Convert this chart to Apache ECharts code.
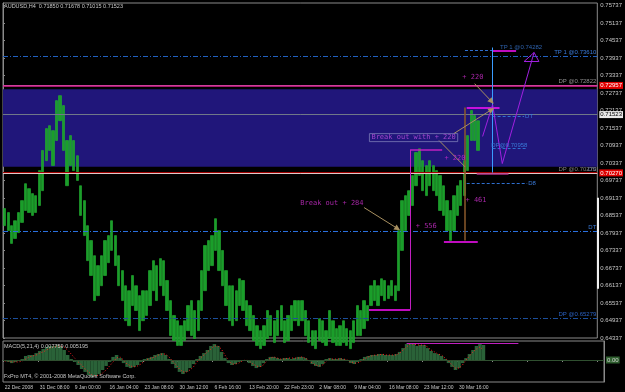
<!DOCTYPE html>
<html><head><meta charset="utf-8">
<script src="https://cdn.jsdelivr.net/npm/echarts@6/dist/echarts.min.js"></script>
<style>html,body{margin:0;padding:0;background:#000;}#c{width:625px;height:392px;}</style>
</head><body><div id="c"></div>
<script>
// ---- data ----
const timeLabels = ["22 Dec 2008","31 Dec 08:00","9 Jan 00:00","16 Jan 04:00","23 Jan 08:00","30 Jan 12:00","6 Feb 16:00","13 Feb 20:00","22 Feb 23:00","2 Mar 08:00","9 Mar 04:00","16 Mar 08:00","23 Mar 12:00","30 Mar 16:00"];
const barHigh = [
0.6878,0.6864,0.6819,0.6836,0.6864,0.6905,0.6963,0.6946,0.6929,0.6922,
0.7008,0.7077,0.7152,0.7162,0.7145,0.7248,0.7265,0.7231,0.7111,0.7128,
0.7111,0.7059,0.6956,0.6905,0.6819,0.6768,0.6716,0.6682,0.6716,0.6768,
0.6785,0.6836,0.6785,0.6716,0.6665,0.6613,0.6596,0.6648,0.6613,0.6579,
0.6596,0.6596,0.6665,0.6699,0.6682,0.6706,0.6699,0.6631,0.6562,0.6511,
0.6493,0.6476,0.6493,0.6545,0.6562,0.6528,0.6562,0.6665,0.6751,0.6768,
0.6785,0.6843,0.6802,0.6734,0.6665,0.6613,0.6613,0.6596,0.6637,0.6631,
0.6562,0.6545,0.6511,0.6476,0.6459,0.6476,0.6528,0.6511,0.6493,0.6528,
0.6545,0.6493,0.6511,0.6545,0.6562,0.6562,0.6562,0.6528,0.6493,0.6459,
0.6459,0.6500,0.6493,0.6459,0.6528,0.6493,0.6466,0.6476,0.6493,0.6466,
0.6459,0.6493,0.6545,0.6528,0.6562,0.6545,0.6613,0.6631,0.6613,0.6637,
0.6631,0.6613,0.6631,0.6613,0.6802,0.6905,0.6922,0.6939,0.6991,0.7070,
0.7083,0.7042,0.7025,0.7042,0.7025,0.7008,0.6991,0.6956,0.6905,0.6871,
0.6922,0.6956,0.6974,0.7042,0.7128,0.7214,0.7197,0.7179];
const barLow = [
0.6819,0.6802,0.6758,0.6775,0.6795,0.6830,0.6871,0.6864,0.6854,0.6864,
0.6888,0.6939,0.7042,0.7077,0.7025,0.7111,0.7179,0.7077,0.6956,0.7025,
0.7008,0.6974,0.6854,0.6785,0.6699,0.6648,0.6562,0.6579,0.6613,0.6648,
0.6692,0.6734,0.6682,0.6613,0.6562,0.6493,0.6476,0.6545,0.6528,0.6459,
0.6493,0.6511,0.6545,0.6596,0.6562,0.6613,0.6579,0.6528,0.6442,0.6425,
0.6408,0.6408,0.6425,0.6459,0.6442,0.6432,0.6459,0.6528,0.6596,0.6665,
0.6682,0.6734,0.6665,0.6613,0.6545,0.6493,0.6476,0.6493,0.6545,0.6528,
0.6476,0.6459,0.6425,0.6408,0.6397,0.6408,0.6432,0.6442,0.6418,0.6442,
0.6459,0.6418,0.6425,0.6459,0.6493,0.6476,0.6493,0.6442,0.6418,0.6408,
0.6397,0.6425,0.6418,0.6408,0.6432,0.6418,0.6408,0.6408,0.6418,0.6408,
0.6397,0.6418,0.6442,0.6442,0.6466,0.6493,0.6545,0.6562,0.6545,0.6579,
0.6562,0.6569,0.6579,0.6562,0.6596,0.6734,0.6802,0.6854,0.6888,0.6956,
0.6991,0.6939,0.6922,0.6956,0.6939,0.6922,0.6871,0.6854,0.6802,0.6768,
0.6802,0.6854,0.6888,0.6922,0.7008,0.7111,0.7111,0.7077];
const macdMain = [
-0.0005,-0.0010,-0.0016,-0.0010,-0.0005,0.0005,0.0021,0.0026,0.0026,0.0036,
0.0047,0.0057,0.0068,0.0073,0.0073,0.0078,0.0073,0.0052,0.0026,0.0005,
-0.0010,-0.0026,-0.0047,-0.0062,-0.0078,-0.0088,-0.0083,-0.0073,-0.0052,-0.0031,
-0.0010,0.0016,0.0026,0.0010,-0.0016,-0.0036,-0.0042,-0.0036,-0.0026,-0.0010,
0.0005,0.0010,0.0016,0.0026,0.0031,0.0036,0.0026,0.0005,-0.0021,-0.0042,
-0.0062,-0.0073,-0.0062,-0.0042,-0.0021,0.0005,0.0021,0.0036,0.0052,0.0073,
0.0083,0.0073,0.0042,0.0010,-0.0016,-0.0026,-0.0021,-0.0010,0.0000,0.0000,
-0.0016,-0.0031,-0.0042,-0.0036,-0.0016,0.0005,0.0016,0.0016,0.0010,0.0005,
0.0010,0.0010,0.0005,0.0010,0.0016,0.0016,0.0010,-0.0005,-0.0021,-0.0031,
-0.0036,-0.0021,0.0005,0.0010,0.0005,0.0005,0.0010,0.0005,-0.0005,-0.0016,
-0.0021,-0.0010,0.0005,0.0016,0.0021,0.0026,0.0026,0.0031,0.0031,0.0026,
0.0026,0.0026,0.0031,0.0042,0.0062,0.0083,0.0088,0.0083,0.0073,0.0078,
0.0078,0.0062,0.0047,0.0036,0.0031,0.0021,0.0005,-0.0016,-0.0036,-0.0052,
-0.0042,-0.0016,0.0010,0.0031,0.0052,0.0073,0.0083,0.0078];
const macdSignal = [
-0.0005,-0.0005,-0.0010,-0.0010,-0.0010,-0.0005,0.0005,0.0016,0.0021,0.0026,
0.0036,0.0042,0.0052,0.0062,0.0068,0.0073,0.0073,0.0068,0.0052,0.0031,
0.0010,-0.0010,-0.0026,-0.0047,-0.0062,-0.0078,-0.0083,-0.0078,-0.0068,-0.0052,
-0.0031,-0.0010,0.0010,0.0016,0.0000,-0.0021,-0.0031,-0.0036,-0.0031,-0.0021,
-0.0005,0.0005,0.0010,0.0016,0.0026,0.0031,0.0031,0.0016,-0.0005,-0.0026,
-0.0047,-0.0062,-0.0062,-0.0052,-0.0036,-0.0010,0.0010,0.0026,0.0042,0.0057,
0.0073,0.0073,0.0057,0.0026,0.0000,-0.0021,-0.0021,-0.0016,-0.0005,0.0000,
-0.0005,-0.0021,-0.0031,-0.0036,-0.0026,-0.0005,0.0010,0.0016,0.0010,0.0005,
0.0005,0.0010,0.0010,0.0010,0.0010,0.0016,0.0010,0.0000,-0.0016,-0.0026,
-0.0031,-0.0026,-0.0005,0.0005,0.0005,0.0005,0.0005,0.0005,0.0000,-0.0010,
-0.0016,-0.0016,-0.0005,0.0005,0.0016,0.0021,0.0026,0.0026,0.0031,0.0026,
0.0026,0.0026,0.0026,0.0036,0.0052,0.0068,0.0083,0.0083,0.0078,0.0078,
0.0078,0.0068,0.0052,0.0042,0.0031,0.0026,0.0010,-0.0005,-0.0026,-0.0042,
-0.0042,-0.0026,0.0000,0.0021,0.0042,0.0057,0.0068,0.0052];

// axis settings
const priceMin = 0.64337, priceStep = 0.006, priceMax = 0.75827;
const macdMin = -0.01144, macdMax = 0.00988;
const N = 172;

const bandTop = 0.7287, bandBottom = 0.7021;
const lastPrice = 0.71523;

const TAN = '#a89060', MAG = '#ff10ff', BLUE = '#2f6fd0';

const cats = [];
for (let i = 0; i < N; i++) cats.push(i % 10 === 0 && timeLabels[i / 10] ? timeLabels[i / 10] : '');
const candles = barHigh.map((h, i) => [barLow[i], h, barLow[i], h]);

const small = {fontFamily: 'Liberation Sans', fontSize: 6};
const tiny = {fontFamily: 'Liberation Sans', fontSize: 5};
const dashDot = [5, 2, 1, 2];

function seg(a, b, color, opts) {
  opts = opts || {};
  return [
    {coord: a, symbol: 'none', lineStyle: {color: color, width: opts.width || 1, type: opts.type || 'solid'},
     label: opts.label || {show: false}},
    {coord: b, symbol: opts.head ? 'triangle' : 'none', symbolSize: 6}
  ];
}

const segments = [
  seg([141.7, 0.7420], [148.5, 0.7420], MAG, {width: 1.5}),
  seg([133.7, 0.7420], [141.7, 0.7420], BLUE, {type: [3, 2]}),
  seg([141.7, 0.7430], [141.7, 0.7001], '#3a9cff'),
  seg([134.2, 0.7224], [143.7, 0.7224], MAG, {width: 1.5}),
  seg([141.7, 0.7193], [150.8, 0.7193], BLUE, {type: [3, 2], label: {show: true, position: 'end', formatter: 'DT', color: '#3a7ad8', ...small, distance: 1}}),
  seg([141.7, 0.7083], [151.4, 0.7083], BLUE, {type: [3, 2], label: {show: true, position: 'middle', formatter: 'DP@0.70958', color: '#3a7ad8', ...small, distance: 0}}),
  seg([134.2, 0.6963], [151.7, 0.6963], BLUE, {type: [3, 2], label: {show: true, position: 'end', formatter: 'D8', color: '#3a7ad8', ...small, distance: 1}}),
  seg([137.1, 0.6998], [146.3, 0.6998], '#b03088', {width: 1.5}),
  seg([133.7, 0.7224], [133.7, 0.6768], '#8b5a2b', {width: 1.5}),
  seg([127.6, 0.6764], [137.4, 0.6764], MAG, {width: 1.5}),
  seg([117.9, 0.7080], [117.9, 0.6531], '#c020c0'),
  seg([117.9, 0.7080], [127.1, 0.7080], '#c020c0', {width: 1.5}),
  seg([105.9, 0.6531], [117.9, 0.6531], MAG, {width: 1.5}),
  // projection path
  seg([138.8, 0.7125], [141.7, 0.7234], '#a020e0'),
  seg([141.7, 0.7234], [144.5, 0.7032], '#a020e0'),
  seg([144.5, 0.7032], [153.7, 0.7413], '#a020e0'),
  seg([153.7, 0.7413], [150.8, 0.7382], '#a020e0'),
  seg([150.8, 0.7382], [155.1, 0.7382], '#a020e0'),
  seg([155.1, 0.7382], [153.7, 0.7413], '#a020e0'),
  // tan arrows
  seg([104.5, 0.6881], [114.2, 0.6809], TAN, {head: true}),
  seg([130.5, 0.7135], [141.4, 0.7217], TAN, {head: true}),
  seg([126.2, 0.7111], [133.7, 0.7021], TAN),
  seg([136.5, 0.7306], [141.4, 0.7245], TAN, {head: true}),
  // scroll marker on the price scale
  seg([N, 0.6915], [N, 0.6603], '#f0f0f0', {width: 2})
];

function lvl(price, color, opts) {
  opts = opts || {};
  return {yAxis: price, lineStyle: {color: color, width: opts.width || 1, type: opts.type || 'solid'},
    label: opts.label || {show: false}};
}
function inLbl(text, color) {
  return {show: true, position: 'insideEndTop', formatter: text, color: color, ...small, distance: 1};
}
function boxLbl(text, bg, fg) {
  return {show: true, position: 'end', formatter: text, color: fg, backgroundColor: bg, ...small,
    padding: [1, 1, 0, 1], distance: 2};
}

const levels = [
  lvl(0.7351, '#2060c0', {type: dashDot, label: inLbl('TP 1 @0.73610', '#3a7ad8')}),
  lvl(0.7296, '#a0a0a0', {label: inLbl('DP @0.72822', '#909090')}),
  lvl(bandTop, '#e0209a', {width: 1.5, label: boxLbl('0.72957', '#e00000', '#ffffff')}),
  lvl(lastPrice, '#707888', {label: boxLbl('0.71523', '#e8e8e8', '#000000')}),
  lvl(0.7025, '#8a8aa8', {label: inLbl('DS', '#6a7ab8')}),
  lvl(0.7015, '#a00000', {width: 2, label: boxLbl('0.70270', '#e00000', '#ffffff')}),
  lvl(0.7013, 'rgba(0,0,0,0)', {label: inLbl('DP @0.70270', '#808080')}),
  lvl(0.7004, '#e0c8c8'),
  lvl(0.6802, '#2a70e0', {type: dashDot, label: inLbl('DT', '#3a7ad8')}),
  lvl(0.6528, '#1c4f9c', {type: dashDot, label: inLbl('DP @0.65279', '#2a60c0')})
];

const mono = {fontFamily: 'DejaVu Sans Mono', fontSize: 7};
const notes = [
  {value: [85.9, 0.6895], text: 'Break out + 284', color: '#d030d0'},
  {value: [119.3, 0.6816], text: '+ 556', color: '#d030d0'},
  {value: [133.7, 0.6908], text: '+ 461', color: '#d030d0'},
  {value: [127.6, 0.7049], text: '+ 220', color: '#d030d0'},
  {value: [132.8, 0.7327], text: '+ 220', color: '#d030d0'},
  {value: [105.9, 0.7121], text: 'Break out with + 220', color: '#c050e0', box: true},
  {value: [143.7, 0.7432], text: 'TP 1 @0.74282', color: '#3a7ad8', smallText: true}
];

const option = {
  backgroundColor: '#000000',
  animation: false,
  title: [
    {text: 'AUDUSD,H4  0.71850 0.71678 0.71015 0.71523', left: 4, top: 3, padding: 0,
     textStyle: {color: '#c8c8c8', fontSize: 5.5, fontWeight: 'normal', fontFamily: 'Liberation Sans'}},
    {text: 'MACD(5,21,4) 0.007759 0.005195', left: 4, top: 343, padding: 0,
     textStyle: {color: '#c8c8c8', fontSize: 5.5, fontWeight: 'normal', fontFamily: 'Liberation Sans'}},
    {text: 'FxPro MT4, \u00a9 2001-2008 MetaQuotes Software Corp.', left: 4, top: 373, padding: 0,
     textStyle: {color: '#c8c8c8', fontSize: 5.5, fontWeight: 'normal', fontFamily: 'Liberation Sans'}}
  ],
  grid: [
    {left: 3, top: 3, width: 601, height: 335, show: true, borderColor: '#8a8a8a', borderWidth: 1, backgroundColor: 'transparent'},
    {left: 3, top: 341, width: 601, height: 41, show: true, borderColor: '#8a8a8a', borderWidth: 1, backgroundColor: 'transparent'}
  ],
  xAxis: [
    {type: 'category', gridIndex: 0, data: cats, axisLine: {show: false}, axisTick: {show: false}, axisLabel: {show: false}},
    {type: 'category', gridIndex: 1, data: cats, axisLine: {show: true, lineStyle: {color: '#8a8a8a'}},
     axisTick: {show: true, length: 2, interval: (i) => i % 10 === 0, lineStyle: {color: '#8a8a8a'}},
     axisLabel: {interval: 0, align: 'left', color: '#c8c8c8', margin: 3, hideOverlap: false, ...tiny}},
    {type: 'value', gridIndex: 0, min: 0, max: N, show: false}
  ],
  yAxis: [
    {type: 'value', gridIndex: 0, position: 'right', min: priceMin, max: priceMax, interval: priceStep, scale: true,
     axisLine: {show: true, lineStyle: {color: '#8a8a8a'}},
     axisTick: {show: true, length: 2, lineStyle: {color: '#8a8a8a'}},
     axisLabel: {color: '#c8c8c8', margin: 3, showMaxLabel: false, formatter: (v) => v.toFixed(5), ...small},
     splitLine: {show: false}},
    {type: 'value', gridIndex: 1, position: 'right', min: macdMin, max: macdMax,
     axisLine: {show: true, lineStyle: {color: '#8a8a8a'}}, axisTick: {show: false}, axisLabel: {show: false},
     splitLine: {show: false}}
  ],
  series: [
    {type: 'line', name: 'band', xAxisIndex: 2, yAxisIndex: 0, data: [[0, 0.70]], symbol: 'none', lineStyle: {opacity: 0}, z: 1,
     markArea: {silent: true, itemStyle: {color: '#20167a'}, data: [[{yAxis: bandTop}, {yAxis: bandBottom}]]}},
    {type: 'candlestick', name: 'AUDUSD', xAxisIndex: 0, yAxisIndex: 0, data: candles, barWidth: 2.8, z: 3,
     itemStyle: {color: '#1a9e2a', color0: '#1a9e2a', borderColor: '#24b232', borderColor0: '#24b232', borderWidth: 0.6}},
    {type: 'line', name: 'levels', xAxisIndex: 2, yAxisIndex: 0, data: [[0, 0.70]], symbol: 'none', lineStyle: {opacity: 0}, z: 4,
     markLine: {silent: true, symbol: ['none', 'none'], animation: false, data: levels}},
    {type: 'line', name: 'objects', xAxisIndex: 2, yAxisIndex: 0, data: [[0, 0.70]], symbol: 'none', lineStyle: {opacity: 0}, z: 5,
     markLine: {silent: true, animation: false, data: segments}},
    {type: 'scatter', name: 'notes', xAxisIndex: 2, yAxisIndex: 0, symbolSize: 1, z: 6,
     itemStyle: {color: 'rgba(0,0,0,0)'},
     data: notes.map(n => ({value: n.value, label: {show: true, position: 'right', distance: 0, formatter: n.text,
       color: n.color, ...(n.smallText ? small : mono),
       ...(n.box ? {borderColor: '#7a7ab8', borderWidth: 1, padding: [1, 2, 0, 2]} : {})}}))},
    {type: 'bar', name: 'MACD', xAxisIndex: 1, yAxisIndex: 1, data: macdMain, barWidth: '100%', barGap: '0%',
     itemStyle: {color: '#2a6238'},
     markLine: {silent: true, symbol: ['none', 'none'], animation: false, data: [
       {yAxis: 0, lineStyle: {color: '#2f4f2f', width: 1, type: 'solid'}, label: boxLbl('0.00', '#2f5f2f', '#d0d0d0')},
       {yAxis: 0.0078, lineStyle: {opacity: 0}, label: {show: true, position: 'end', formatter: '0.00519', color: '#c8c8c8', ...small, distance: 3}},
       {yAxis: -0.0099, lineStyle: {opacity: 0}, label: {show: true, position: 'end', formatter: '-0.01046', color: '#c8c8c8', ...small, distance: 3}}
     ]}},
    {type: 'line', name: 'Signal', xAxisIndex: 1, yAxisIndex: 1, data: macdSignal, symbol: 'none',
     lineStyle: {color: '#ff2020', width: 1, type: [1, 2]},
     markLine: {silent: true, symbol: ['none', 'none'], animation: false, data: [
       [{coord: [115, 0.0088], lineStyle: {color: '#c020c0', width: 1, type: 'solid'}, label: {show: false}}, {coord: [147, 0.0088]}]
     ]}}
  ]
};
const chart = echarts.init(document.getElementById('c'), null, {renderer: 'canvas'});
chart.setOption(option);
</script></body></html>
